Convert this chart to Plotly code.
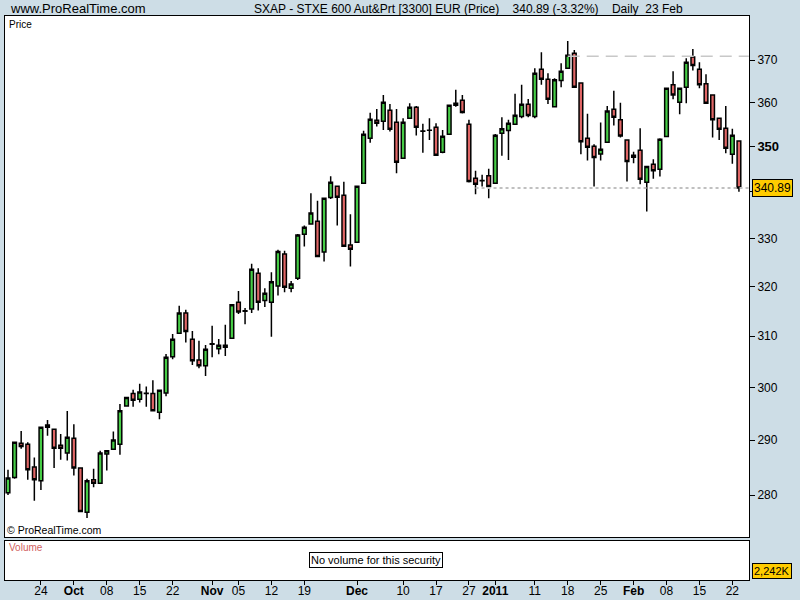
import math
import pandas as pd
import plotly.graph_objects as go

# ---------------- data ----------------
holidays = ["2010-12-24", "2010-12-31"]
dates = [d for d in pd.bdate_range("2010-09-17", "2011-02-23") if d.strftime("%Y-%m-%d") not in holidays]

open_ = [280.42, 283.16, 289.45, 289.27, 285.06, 282.56, 292.87, 292.06, 289.08, 287.62,
         290.37, 284.88, 276.95, 282.74, 282.14, 287.44, 288.35, 289.27, 296.42, 298.80,
         297.73, 298.80, 298.80, 295.24, 298.91, 305.96, 310.58, 314.62, 309.39, 305.31,
         304.18, 308.40, 307.53, 307.81, 309.59, 316.83, 315.00, 315.42, 322.77, 317.16,
         316.83, 320.13, 326.73, 319.66, 321.73, 330.92, 333.07, 333.71, 327.15, 338.78,
         341.26, 339.29, 328.67, 329.23, 341.92, 351.91, 356.01, 355.79, 358.29, 355.56,
         347.44, 356.47, 358.97, 353.51, 353.74, 354.42, 348.76, 352.82, 359.43, 360.58,
         355.10, 343.02, 342.45, 343.53, 341.92, 353.05, 353.64, 355.10, 356.83, 359.65,
         356.83, 367.83, 365.49, 359.11, 365.16, 368.06, 371.61, 364.56, 351.91, 350.09,
         348.39, 351.00, 358.52, 356.08, 351.53, 347.66, 349.21, 342.14, 346.11, 345.01,
         352.28, 364.16, 360.12, 363.62, 370.72, 367.83, 364.39, 361.82, 356.47, 354.19,
         348.32, 351.30]
high = [284.57, 289.63, 291.74, 289.63, 286.82, 292.43, 293.80, 292.06, 291.18, 295.49,
        293.00, 284.88, 282.93, 284.75, 288.04, 288.04, 291.61, 296.80, 298.05, 299.55,
        300.71, 300.18, 301.36, 299.55, 306.49, 310.44, 316.09, 315.28, 311.05, 309.11,
        308.26, 312.06, 309.45, 312.26, 316.29, 319.11, 315.62, 324.71, 323.81, 319.66,
        322.98, 327.63, 327.42, 321.17, 330.99, 332.77, 339.72, 338.07, 338.65, 343.47,
        341.26, 342.21, 335.21, 341.26, 353.58, 357.68, 358.59, 361.82, 359.72, 358.59,
        356.47, 359.88, 359.27, 355.17, 356.47, 355.33, 353.80, 359.43, 362.99, 361.82,
        356.08, 344.64, 343.75, 345.08, 352.89, 356.70, 356.08, 362.06, 364.16, 360.89,
        368.06, 371.85, 366.89, 365.72, 369.23, 374.56, 372.40, 364.56, 357.45, 350.55,
        355.47, 359.27, 362.76, 360.02, 351.53, 348.90, 354.19, 345.58, 347.22, 351.91,
        363.39, 367.36, 363.39, 370.41, 372.64, 369.46, 366.66, 361.82, 356.47, 359.27,
        354.03, 351.30]
low = [280.00, 282.93, 288.41, 282.74, 278.96, 280.91, 290.86, 284.88, 286.40, 286.27,
       283.53, 277.07, 275.92, 281.41, 282.00, 284.44, 288.30, 287.31, 296.42, 296.29,
       297.12, 296.29, 295.50, 293.93, 298.30, 305.44, 310.50, 308.72, 304.32, 303.67,
       302.21, 305.84, 306.43, 306.09, 309.59, 314.42, 312.40, 314.62, 315.14, 315.83,
       309.90, 318.17, 318.85, 318.85, 321.38, 328.31, 333.00, 326.20, 325.19, 338.50,
       332.77, 328.30, 324.15, 329.23, 341.80, 350.91, 354.56, 353.80, 353.42, 344.13,
       347.40, 356.40, 352.51, 348.68, 351.53, 348.00, 348.54, 352.82, 359.11, 357.52,
       342.05, 339.51, 341.17, 338.65, 341.80, 348.01, 347.06, 355.00, 356.47, 356.70,
       356.47, 364.16, 359.72, 358.97, 363.62, 368.00, 363.60, 348.34, 346.92, 341.17,
       346.92, 350.90, 354.78, 352.05, 342.27, 346.34, 341.70, 335.77, 342.87, 343.38,
       352.28, 360.82, 357.38, 359.88, 367.50, 363.39, 359.80, 352.05, 351.53, 348.54,
       346.20, 340.07]
close = [283.05, 289.63, 288.83, 284.57, 282.74, 292.43, 292.43, 288.54, 288.54, 290.56,
         284.88, 277.07, 282.56, 282.14, 287.62, 288.04, 290.06, 295.54, 298.05, 297.55,
         299.10, 298.85, 295.54, 299.42, 305.84, 309.39, 314.62, 310.91, 305.17, 304.18,
         307.42, 308.50, 308.20, 308.20, 316.29, 314.82, 315.10, 323.60, 316.83, 318.65,
         321.02, 327.27, 319.86, 320.54, 330.77, 332.42, 335.43, 326.23, 338.65, 342.14,
         338.86, 328.40, 327.77, 341.26, 352.82, 356.24, 355.33, 360.12, 353.96, 346.56,
         355.56, 358.97, 354.42, 353.55, 353.70, 348.10, 352.37, 359.43, 359.88, 357.74,
         342.27, 341.70, 342.49, 341.17, 352.60, 354.03, 355.33, 357.15, 359.65, 357.06,
         366.89, 365.49, 360.82, 365.33, 367.36, 371.13, 363.62, 351.14, 349.86, 347.57,
         349.43, 358.13, 356.70, 352.44, 346.69, 348.10, 342.80, 345.58, 344.64, 351.69,
         363.39, 361.82, 363.39, 369.46, 368.67, 364.16, 359.88, 356.08, 353.96, 349.65,
         352.60, 340.89]

tick_dates = ["2010-09-24", "2010-10-01", "2010-10-08", "2010-10-15", "2010-10-22",
              "2010-11-01", "2010-11-05", "2010-11-12", "2010-11-19", "2010-12-01",
              "2010-12-10", "2010-12-17", "2010-12-27", "2011-01-03", "2011-01-11",
              "2011-01-18", "2011-01-25", "2011-02-01", "2011-02-08", "2011-02-15",
              "2011-02-22"]
tick_labels = ["24", "<b>Oct</b>", "08", "15", "22", "<b>Nov</b>", "05", "12", "19",
               "<b>Dec</b>", "10", "17", "27", "<b>2011</b>", "11", "18", "25",
               "<b>Feb</b>", "08", "15", "22"]
price_ticks = [280, 290, 300, 310, 320, 330, 340, 350, 360, 370]
price_tick_labels = ["280", "290", "300", "310", "320", "330", "",
                     "<b><span style='font-size:13px'>350</span></b>", "360", "370"]
resistance = 370.9
last_price = 340.89
title_left = "www.ProRealTime.com"
title_main = "SXAP - STXE 600 Aut&Prt [3300] EUR (Price)    340.89 (-3.32%)    Daily  23 Feb"
volume_label = "2,242K"

# ---------------- figure ----------------
n = len(close)
xs = list(range(n))
date_str = [d.strftime("%Y-%m-%d") for d in dates]
tickvals = [date_str.index(t) for t in tick_dates]

FONT = "Liberation Sans, Arial, sans-serif"
GREEN = "#46cd46"
RED = "#e06666"
BG = "#cddde6"

fig = go.Figure()
fig.add_trace(go.Scatter(x=[85, n + 0.5], y=[resistance, resistance], mode="lines",
                         line=dict(color="#c8c8c8", width=1.5, dash="12px,7px"),
                         hoverinfo="skip", showlegend=False, xaxis="x", yaxis="y"))
fig.add_trace(go.Scatter(x=[71, n + 0.5], y=[last_price, last_price], mode="lines",
                         line=dict(color="#c0c0c0", width=2, dash="3px,3px"),
                         hoverinfo="skip", showlegend=False, xaxis="x", yaxis="y"))
fig.add_trace(go.Candlestick(
    x=xs, open=open_, high=high, low=low, close=close,
    increasing=dict(fillcolor=GREEN, line=dict(color="black", width=1.5)),
    decreasing=dict(fillcolor=RED, line=dict(color="black", width=1.5)),
    whiskerwidth=0, showlegend=False, xaxis="x", yaxis="y"))
fig.add_trace(go.Scatter(x=[0], y=[0.5], mode="markers", marker=dict(opacity=0),
                         hoverinfo="skip", showlegend=False, xaxis="x2", yaxis="y2"))

L, R, T, B = 5, 51, 16, 20
W, H = 800, 600
pw, ph = W - L - R, H - T - B
x0_px, step = 8.0, 6.585
xr = [(L - x0_px) / step, (W - R - x0_px) / step]
ylog_top = math.log10(370) + (60 - 16) / 3594
ylog_bot = math.log10(370) - (537 - 60) / 3594

def py(p):
    return (H - B - p) / ph

def px(p):
    return (p - L) / pw

fig.update_layout(
    width=W, height=H,
    margin=dict(l=L, r=R, t=T, b=B, autoexpand=False),
    paper_bgcolor=BG, plot_bgcolor="white",
    font=dict(family=FONT, size=12, color="black"),
    boxgap=0.2,
    xaxis=dict(domain=[0, 1], anchor="y", range=xr, showticklabels=False, ticks="",
               showgrid=False, zeroline=False, showline=True, mirror=True,
               linecolor="black", linewidth=1, rangeslider=dict(visible=False)),
    yaxis=dict(domain=[py(537), 1], type="log", range=[ylog_bot, ylog_top], side="right",
               tickvals=price_ticks, ticktext=price_tick_labels, ticks="outside",
               ticklen=5, tickcolor="black", showgrid=False, zeroline=False,
               showline=True, mirror=True, linecolor="black", linewidth=1,
               tickfont=dict(size=12, family=FONT)),
    xaxis2=dict(domain=[0, 1], anchor="y2", matches="x", range=xr,
                tickvals=tickvals, ticktext=tick_labels, ticks="outside", ticklen=4,
                tickcolor="black", showgrid=False, zeroline=False, showline=True,
                mirror=True, linecolor="black", linewidth=1, ticklabelstandoff=-4,
                tickfont=dict(size=12, family=FONT)),
    yaxis2=dict(domain=[0, py(541)], range=[0, 1], showticklabels=False, ticks="",
                showgrid=False, zeroline=False, showline=True, mirror=True,
                linecolor="black", linewidth=1),
    hovermode=False,
)

ann = []
ann.append(dict(text=title_left, xref="paper", yref="paper", x=px(8), y=py(9),
                xanchor="left", yanchor="middle", showarrow=False,
                font=dict(size=13, family=FONT)))
ann.append(dict(text=title_main, xref="paper", yref="paper", x=px(252), y=py(9),
                xanchor="left", yanchor="middle", showarrow=False,
                font=dict(size=12, family=FONT)))
ann.append(dict(text="Price", xref="paper", yref="paper", x=px(7), y=py(24),
                xanchor="left", yanchor="middle", showarrow=False,
                font=dict(size=10, family=FONT)))
ann.append(dict(text="© ProRealTime.com", xref="paper", yref="paper", x=px(5), y=py(530),
                xanchor="left", yanchor="middle", showarrow=False,
                font=dict(size=10.5, family=FONT)))
ann.append(dict(text="Volume", xref="paper", yref="paper", x=px(7), y=py(547),
                xanchor="left", yanchor="middle", showarrow=False,
                font=dict(size=10, family=FONT, color="#d06060")))
ann.append(dict(text="No volume for this security", xref="paper", yref="paper",
                x=px(376), y=py(560), xanchor="center", yanchor="middle", showarrow=False,
                bgcolor="white", bordercolor="black", borderwidth=1, borderpad=1,
                font=dict(size=11, family=FONT)))
ann.append(dict(text=f"{last_price:.2f}", xref="paper", yref="y", x=1,
                y=math.log10(last_price), xanchor="left", yanchor="middle", xshift=3,
                showarrow=False, bgcolor="#ffcc00", bordercolor="black", borderwidth=1,
                borderpad=1, font=dict(size=12, family=FONT)))
ann.append(dict(text=volume_label, xref="paper", yref="paper", x=1, y=py(570.5),
                xanchor="left", yanchor="middle", xshift=3, showarrow=False,
                bgcolor="#ffcc00", bordercolor="black", borderwidth=1, borderpad=1,
                font=dict(size=11, family=FONT)))
fig.update_layout(annotations=ann)

fig.write_html("out.html", config={"displayModeBar": False},
               post_script="document.body.style.margin='0';document.body.style.overflow='hidden';")
